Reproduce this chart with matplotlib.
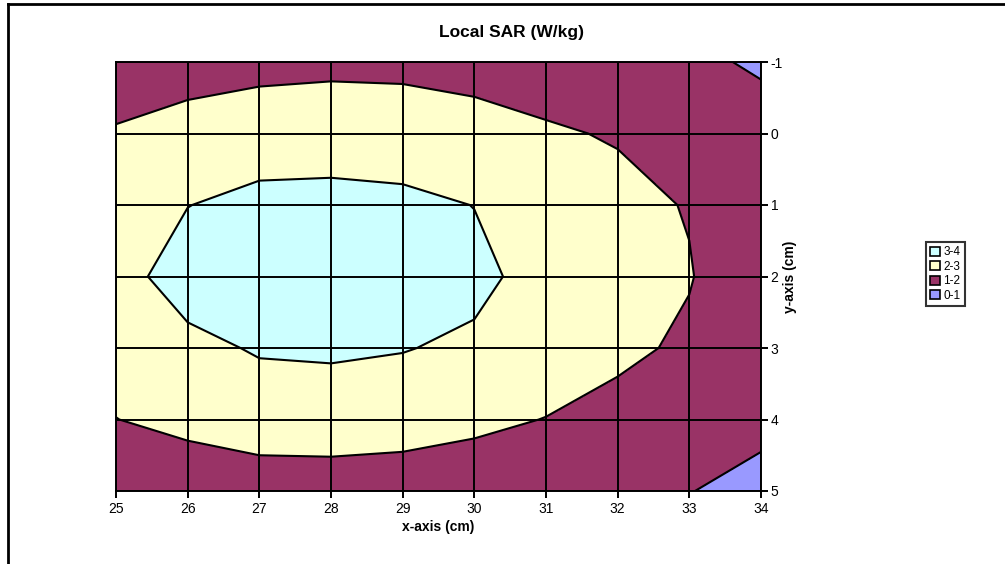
import matplotlib
matplotlib.use('Agg')
import matplotlib.pyplot as plt
import numpy as np
from matplotlib.patches import Patch
from matplotlib.lines import Line2D

plt.rcParams['font.family'] = ['Liberation Sans', 'DejaVu Sans']
plt.rcParams['axes.unicode_minus'] = False

# grid positions (cm)
xs = [25, 26, 27, 28, 29, 30, 31, 32, 33, 34]
ys = [-1, 0, 1, 2, 3, 4, 5]

# local SAR values (W/kg), one row per y position
row_m1 = [1.33, 1.66, 1.78, 1.87, 1.88, 1.81, 1.57, 1.40, 1.20, 0.87]
row_0 = [2.10, 2.30, 2.42, 2.35, 2.27, 2.20, 2.10, 1.93, 1.60, 1.40]
row_1 = [2.40, 2.98, 3.30, 3.40, 3.30, 2.98, 2.60, 2.25, 1.95, 1.50]
row_2 = [2.60, 3.50, 3.80, 3.90, 3.80, 3.30, 2.55, 2.30, 2.05, 1.30]
row_3 = [2.30, 2.72, 3.10, 3.17, 3.05, 2.80, 2.50, 2.20, 1.85, 1.40]
row_4 = [1.99, 2.21, 2.40, 2.38, 2.33, 2.18, 1.98, 1.70, 1.50, 1.29]
row_5 = [1.40, 1.50, 1.60, 1.65, 1.60, 1.50, 1.40, 1.25, 1.03, 0.65]

levels = [0, 1, 2, 3, 4]
band_labels = ['0-1', '1-2', '2-3', '3-4']
band_colors = ['#9999FF', '#993366', '#FFFFCC', '#CCFFFF']

Z = np.array([row_m1, row_0, row_1, row_2, row_3, row_4, row_5])
X, Y = np.meshgrid(xs, ys)

fig = plt.figure(figsize=(10.05, 5.64), dpi=100)
W, H = 1005, 564
ax = fig.add_axes([116 / W, 1 - 491 / H, (761 - 116) / W, (491 - 62) / H])

ax.contourf(X, Y, Z, levels=levels, colors=band_colors)
ax.contour(X, Y, Z, levels=levels, colors='black', linewidths=1.5)

# grid lines
for xv in xs:
    ax.axvline(xv, color='black', lw=1.4, zorder=3)
for yv in ys:
    ax.axhline(yv, color='black', lw=1.4, zorder=3)

ax.set_xlim(25, 34)
ax.set_ylim(5, -1)
ax.set_xticks(xs)
ax.set_yticks(ys)
ax.yaxis.tick_right()
ax.yaxis.set_label_position('right')
ax.tick_params(axis='both', direction='out', length=5, width=1.4, labelsize=10, colors='black')
ax.tick_params(axis='x', pad=3)
ax.tick_params(axis='y', pad=2)
for s in ax.spines.values():
    s.set_linewidth(1.4)
    s.set_zorder(4)

ax.set_xlabel('x-axis (cm)', fontsize=10, fontweight='bold', labelpad=3)
ax.set_ylabel('y-axis (cm)', fontsize=10, fontweight='bold', labelpad=0)
fig.text(511 / W, 1 - 33 / H, 'Local SAR (W/kg)', fontsize=12.5, fontweight='bold',
         ha='center', va='center')

# legend (highest band first)
handles = [Patch(facecolor=c, edgecolor='black', linewidth=1.2) for c in band_colors[::-1]]
leg = fig.legend(handles, band_labels[::-1], loc='center', bbox_to_anchor=(945.5 / W, 1 - 274 / H),
                 fontsize=8.5, frameon=True, fancybox=False, edgecolor='black',
                 handlelength=0.8, handleheight=0.8, handletextpad=0.3,
                 labelspacing=0.2, borderpad=0.35, borderaxespad=0)
leg.get_frame().set_linewidth(1.5)

# outer chart frame (left and top edges visible)
fig.add_artist(Line2D([8 / W, 8 / W], [0, 1 - 4 / H], transform=fig.transFigure, color='black', lw=2))
fig.add_artist(Line2D([8 / W, 1], [1 - 4 / H, 1 - 4 / H], transform=fig.transFigure, color='black', lw=2))

fig.savefig('out.png', dpi=100)
